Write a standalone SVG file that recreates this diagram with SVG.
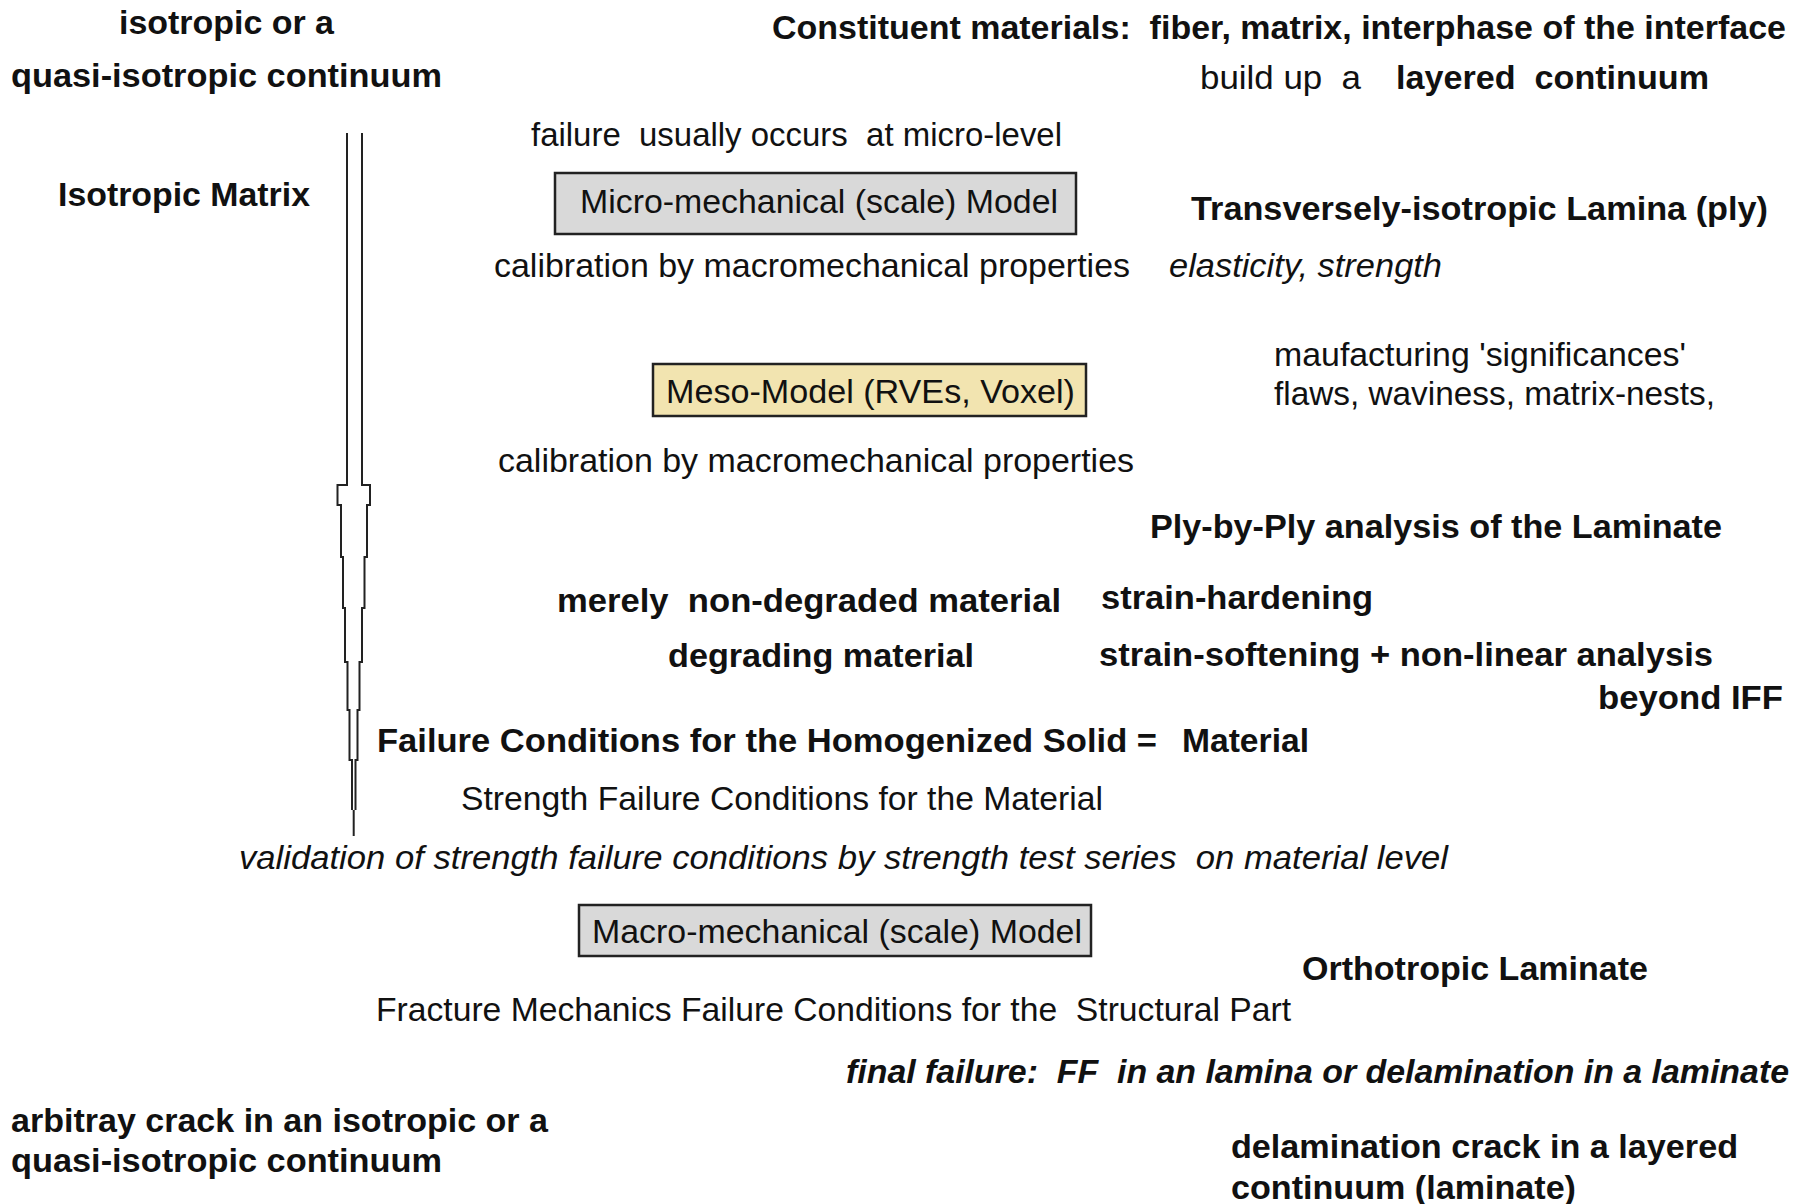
<svg xmlns="http://www.w3.org/2000/svg" width="1808" height="1204" viewBox="0 0 1808 1204">
<style>
text{font-family:"Liberation Sans",Arial,sans-serif;font-size:33px;fill:#111;white-space:pre}
.b{font-weight:bold}
.i{font-style:italic}
.box{stroke:#222;stroke-width:2.5}
.ln{fill:none;stroke:#222;stroke-width:2}
</style>
<rect width="1808" height="1204" fill="#fff"/>
<g id="connectors">
<path class="ln" d="M347,133 V485 H337.5 V505 H341 V557 H343 V608 H345 V662 H347.5 V710 H349.5 V760 H352 V810"/>
<path class="ln" d="M362,133 V485 H370 V505 H367 V557 H364.5 V608 H362 V662 H359.5 V710 H357.5 V760 H355.5 V810"/>
<path class="ln" d="M353.7,810 V836"/>
</g>
<g id="top-left"><text class="b" x="119" y="34" textLength="215" lengthAdjust="spacingAndGlyphs">isotropic or a</text><text class="b" x="11" y="87" textLength="431" lengthAdjust="spacingAndGlyphs">quasi-isotropic continuum</text></g>
<g id="constituents"><text class="b" x="772" y="39" textLength="1014" lengthAdjust="spacingAndGlyphs">Constituent materials:  fiber, matrix, interphase of the interface</text></g>
<g id="layered"><text x="1200" y="89" textLength="161" lengthAdjust="spacingAndGlyphs">build up  a</text><text class="b" x="1396" y="89" textLength="313" lengthAdjust="spacingAndGlyphs">layered  continuum</text></g>
<g id="failure-micro"><text x="531" y="146" textLength="531" lengthAdjust="spacingAndGlyphs">failure  usually occurs  at micro-level</text></g>
<g id="isotropic-matrix"><text class="b" x="58" y="206" textLength="252" lengthAdjust="spacingAndGlyphs">Isotropic Matrix</text></g>
<g id="micro-model"><rect class="box" x="555" y="173" width="521" height="61" fill="#d9d9d9"/><text x="580" y="213" textLength="478" lengthAdjust="spacingAndGlyphs">Micro-mechanical (scale) Model</text></g>
<g id="lamina"><text class="b" x="1191" y="220" textLength="577" lengthAdjust="spacingAndGlyphs">Transversely-isotropic Lamina (ply)</text></g>
<g id="calib1"><text x="494" y="277" textLength="636" lengthAdjust="spacingAndGlyphs">calibration by macromechanical properties</text><text class="i" x="1169" y="277" textLength="273" lengthAdjust="spacingAndGlyphs">elasticity, strength</text></g>
<g id="manufacturing"><text x="1274" y="366" textLength="412" lengthAdjust="spacingAndGlyphs">maufacturing 'significances'</text><text x="1274" y="405" textLength="441" lengthAdjust="spacingAndGlyphs">flaws, waviness, matrix-nests,</text></g>
<g id="meso-model"><rect class="box" x="653" y="364" width="433" height="52" fill="#f2e4b0"/><text x="666" y="403" textLength="409" lengthAdjust="spacingAndGlyphs">Meso-Model (RVEs, Voxel)</text></g>
<g id="calib2"><text x="498" y="472" textLength="636" lengthAdjust="spacingAndGlyphs">calibration by macromechanical properties</text></g>
<g id="ply-by-ply"><text class="b" x="1150" y="538" textLength="572" lengthAdjust="spacingAndGlyphs">Ply-by-Ply analysis of the Laminate</text></g>
<g id="non-degraded"><text class="b" x="557" y="612" textLength="504" lengthAdjust="spacingAndGlyphs">merely  non-degraded material</text><text class="b" x="1101" y="609" textLength="272" lengthAdjust="spacingAndGlyphs">strain-hardening</text></g>
<g id="degrading"><text class="b" x="668" y="667" textLength="306" lengthAdjust="spacingAndGlyphs">degrading material</text><text class="b" x="1099" y="666" textLength="614" lengthAdjust="spacingAndGlyphs">strain-softening + non-linear analysis</text><text class="b" x="1598" y="709" textLength="185" lengthAdjust="spacingAndGlyphs">beyond IFF</text></g>
<g id="homogenized"><text class="b" x="377" y="752" textLength="780" lengthAdjust="spacingAndGlyphs">Failure Conditions for the Homogenized Solid =</text><text class="b" x="1182" y="752" textLength="127" lengthAdjust="spacingAndGlyphs">Material</text></g>
<g id="strength"><text x="461" y="810" textLength="642" lengthAdjust="spacingAndGlyphs">Strength Failure Conditions for the Material</text></g>
<g id="validation"><text class="i" x="239" y="869" textLength="1209" lengthAdjust="spacingAndGlyphs">validation of strength failure conditions by strength test series  on material level</text></g>
<g id="macro-model"><rect class="box" x="579" y="905" width="512" height="51" fill="#d9d9d9"/><text x="592" y="943" textLength="490" lengthAdjust="spacingAndGlyphs">Macro-mechanical (scale) Model</text></g>
<g id="orthotropic"><text class="b" x="1302" y="980" textLength="346" lengthAdjust="spacingAndGlyphs">Orthotropic Laminate</text></g>
<g id="fracture"><text x="376" y="1021" textLength="915" lengthAdjust="spacingAndGlyphs">Fracture Mechanics Failure Conditions for the  Structural Part</text></g>
<g id="final-failure"><text class="b i" x="846" y="1083" textLength="943" lengthAdjust="spacingAndGlyphs">final failure:  FF  in an lamina or delamination in a laminate</text></g>
<g id="arbitrary-crack"><text class="b" x="11" y="1132" textLength="537" lengthAdjust="spacingAndGlyphs">arbitray crack in an isotropic or a</text><text class="b" x="11" y="1172" textLength="431" lengthAdjust="spacingAndGlyphs">quasi-isotropic continuum</text></g>
<g id="delamination"><text class="b" x="1231" y="1158" textLength="507" lengthAdjust="spacingAndGlyphs">delamination crack in a layered</text><text class="b" x="1231" y="1199" textLength="345" lengthAdjust="spacingAndGlyphs">continuum (laminate)</text></g>
</svg>
